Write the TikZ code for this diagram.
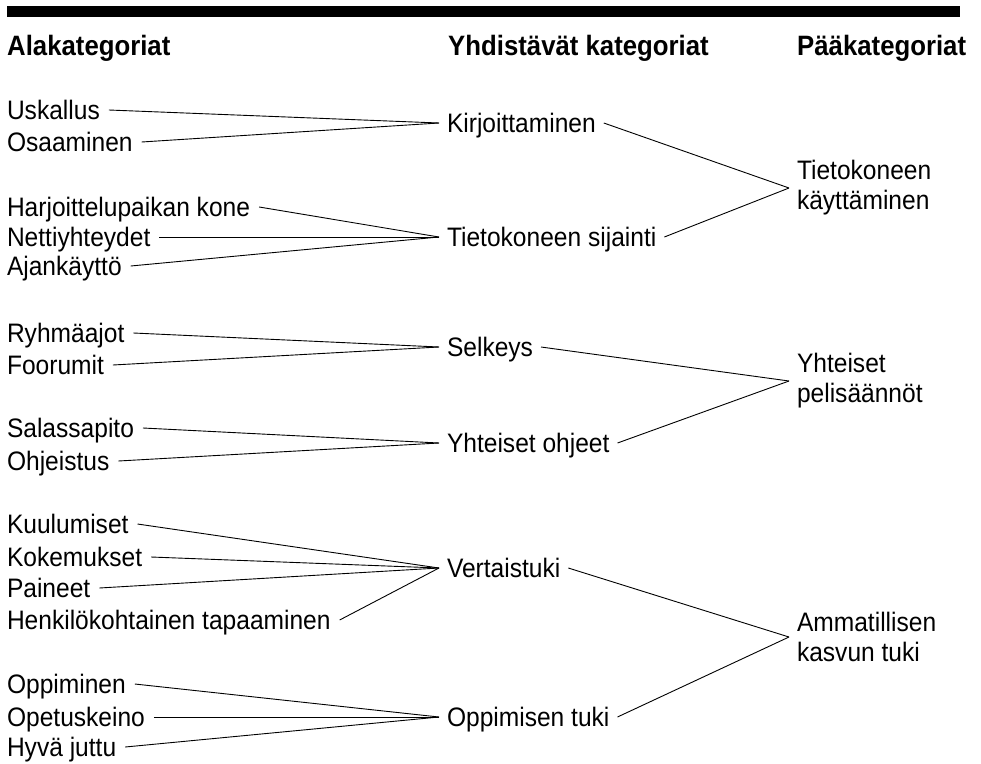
\documentclass[tikz,border=0pt]{standalone}
\usepackage{fontspec}
\setmainfont{Liberation Sans}[FakeStretch=0.92]
\begin{document}
\begin{tikzpicture}[x=1pt,y=-1pt,
  lbl/.style={font=\fontsize{26.7}{30}\selectfont, inner ysep=0pt, outer sep=0pt, text height=19pt, text depth=0pt},
  subc/.style={lbl, anchor=west, inner xsep=9pt},
  midc/.style={lbl, anchor=west, inner xsep=8pt},
  mainc/.style={font=\fontsize{26.7}{30}\selectfont, anchor=west, inner xsep=8pt, inner ysep=0pt, outer sep=0pt, align=left},
  hdr/.style={font=\fontsize{28}{30}\selectfont\bfseries, anchor=west, inner sep=0pt, text height=20pt, text depth=0pt},
  conn/.style={line width=0.9pt}]
\useasboundingbox (0,0) rectangle (981,763);
\fill (7,6) rectangle (960,17);
% headers
\node[hdr] (h1) at (7,45) {Alakategoriat};
\node[hdr] (h2) at (448,45) {Yhdistävät kategoriat};
\node[hdr] (h3) at (797,45) {Pääkategoriat};
% sub categories
\node[subc] (u1) at (-2,110) {Uskallus};
\node[subc] (u2) at (-2,142) {Osaaminen};
\node[subc] (u3) at (-2,207) {Harjoittelupaikan kone};
\node[subc] (u4) at (-2,237) {Nettiyhteydet};
\node[subc] (u5) at (-2,266) {Ajankäyttö};
\node[subc] (u6) at (-2,333) {Ryhmäajot};
\node[subc] (u7) at (-2,365) {Foorumit};
\node[subc] (u8) at (-2,428) {Salassapito};
\node[subc] (u9) at (-2,461) {Ohjeistus};
\node[subc] (u10) at (-2,524) {Kuulumiset};
\node[subc] (u11) at (-2,557) {Kokemukset};
\node[subc] (u12) at (-2,588) {Paineet};
\node[subc] (u13) at (-2,620) {Henkilökohtainen tapaaminen};
\node[subc] (u14) at (-2,684) {Oppiminen};
\node[subc] (u15) at (-2,717) {Opetuskeino};
\node[subc] (u16) at (-2,747) {Hyvä juttu};
% combining categories
\node[midc] (m1) at (439,123) {Kirjoittaminen};
\node[midc] (m2) at (439,237) {Tietokoneen sijainti};
\node[midc] (m3) at (439,347) {Selkeys};
\node[midc] (m4) at (439,443) {Yhteiset ohjeet};
\node[midc] (m5) at (439,568) {Vertaistuki};
\node[midc] (m6) at (439,717) {Oppimisen tuki};
% main categories
\node[mainc] (p1) at (789,188) {Tietokoneen\\käyttäminen};
\node[mainc] (p2) at (789,381) {Yhteiset\\pelisäännöt};
\node[mainc] (p3) at (789,637) {Ammatillisen\\kasvun tuki};
% connectors
\foreach \a/\b in {u1/m1,u2/m1,u3/m2,u4/m2,u5/m2,u6/m3,u7/m3,u8/m4,u9/m4,
                   u10/m5,u11/m5,u12/m5,u13/m5,u14/m6,u15/m6,u16/m6,
                   m1/p1,m2/p1,m3/p2,m4/p2,m5/p3,m6/p3}
  \draw[conn] (\a.east) -- (\b.west);
\end{tikzpicture}
\end{document}
